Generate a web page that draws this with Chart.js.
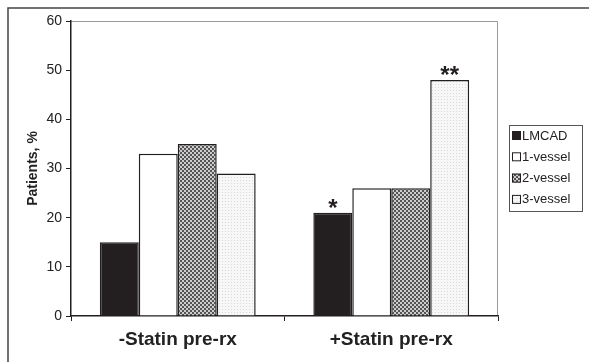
<!DOCTYPE html>
<html>
<head>
<meta charset="utf-8">
<script src="https://cdn.jsdelivr.net/npm/chart.js@4.4.1/dist/chart.umd.min.js"></script>
<style>
  html, body { margin: 0; padding: 0; background: #fff; }
  #wrap { width: 589px; height: 362px; position: relative; }
</style>
</head>
<body>
<div id="wrap"><canvas id="chart" width="589" height="362"></canvas></div>
<script>
// data
const categories = ["-Statin pre-rx", "+Statin pre-rx"];
const seriesNames = ["LMCAD", "1-vessel", "2-vessel", "3-vessel"];
const lmcad = [15, 21];
const oneVessel = [33, 26];
const twoVessel = [35, 26];
const threeVessel = [29, 48];
const yTicks = [0, 10, 20, 30, 40, 50, 60];
// significance marks per series, per category
const marks = [["", "*"], ["", ""], ["", ""], ["", "**"]];

const FONT = "'Liberation Sans', Arial, sans-serif";
const INK = "#231f20";

// hatch patterns like the print figure
function checkerPattern() {
  const c = document.createElement("canvas");
  c.width = 4; c.height = 4;
  const g = c.getContext("2d");
  g.fillStyle = "#cdcdcd";
  g.fillRect(0, 0, 4, 4);
  g.fillStyle = "#555555";
  g.fillRect(0, 0, 2, 2);
  g.fillRect(2, 2, 2, 2);
  return g.createPattern(c, "repeat");
}
function dotPattern() {
  const c = document.createElement("canvas");
  c.width = 3; c.height = 3;
  const g = c.getContext("2d");
  g.fillStyle = "#f7f7f7";
  g.fillRect(0, 0, 3, 3);
  g.fillStyle = "#d9d9d9";
  g.fillRect(0, 0, 1, 1);
  return g.createPattern(c, "repeat");
}

const fills = [INK, "#ffffff", checkerPattern(), dotPattern()];
const values = [lmcad, oneVessel, twoVessel, threeVessel];

// frame, gray top/right border of the plot, legend box, asterisks
const decor = {
  id: "decor",
  beforeDraw(chart) {
    const ctx = chart.ctx;
    ctx.save();
    ctx.fillStyle = "#fff";
    ctx.fillRect(0, 0, chart.width, chart.height);
    ctx.strokeStyle = "#444";
    ctx.lineWidth = 1.5;
    ctx.beginPath();
    ctx.moveTo(8, chart.height);
    ctx.lineTo(8, 8);
    ctx.lineTo(chart.width, 8);
    ctx.stroke();
    const a = chart.chartArea;
    ctx.strokeStyle = "#9a9a9a";
    ctx.lineWidth = 1;
    ctx.beginPath();
    ctx.moveTo(a.left, a.top + 0.5);
    ctx.lineTo(a.right - 0.5, a.top + 0.5);
    ctx.lineTo(a.right - 0.5, a.bottom);
    ctx.stroke();
    ctx.restore();
  },
  afterDatasetsDraw(chart) {
    const ctx = chart.ctx;
    ctx.save();
    ctx.fillStyle = INK;
    ctx.font = "bold 24px " + FONT;
    ctx.textAlign = "center";
    ctx.textBaseline = "alphabetic";
    marks.forEach((row, i) => {
      const meta = chart.getDatasetMeta(i);
      row.forEach((m, j) => {
        if (!m) return;
        const bar = meta.data[j];
        ctx.fillText(m, bar.x, bar.y + 3);
      });
    });

    // legend
    const bx = 509, by = 125, bw = 73, bh = 86;
    ctx.strokeStyle = "#555";
    ctx.lineWidth = 1;
    ctx.strokeRect(bx + 0.5, by + 0.5, bw, bh);
    ctx.font = "13px " + FONT;
    ctx.textAlign = "left";
    ctx.textBaseline = "middle";
    chart.data.datasets.forEach((ds, i) => {
      const cy = by + 11 + i * 21.3;
      ctx.fillStyle = ds.backgroundColor;
      ctx.fillRect(bx + 3, cy - 5, 9, 9);
      ctx.strokeStyle = INK;
      ctx.strokeRect(bx + 3.5, cy - 4.5, 8, 8);
      ctx.fillStyle = "#222";
      ctx.fillText(ds.label, bx + 13, cy);
    });
    ctx.restore();
  }
};

new Chart(document.getElementById("chart"), {
  type: "bar",
  data: {
    labels: categories,
    datasets: seriesNames.map((name, i) => ({
      label: name,
      data: values[i],
      backgroundColor: fills[i],
      borderColor: INK,
      borderWidth: 1.5,
      borderSkipped: "bottom",
      categoryPercentage: 0.73,
      barPercentage: 1.0
    }))
  },
  options: {
    responsive: false,
    animation: false,
    devicePixelRatio: 1,
    layout: { padding: { left: 0, right: 91, top: 21, bottom: 0 } },
    plugins: { legend: { display: false }, tooltip: { enabled: false } },
    scales: {
      x: {
        afterFit(s) { s.height = 46; },
        grid: { display: true, drawOnChartArea: false, drawTicks: true, tickLength: 5, color: INK, offset: true },
        border: { display: true, color: INK, width: 1.5 },
        ticks: { color: "#222", font: { family: FONT, size: 19, weight: "bold" }, padding: 7 }
      },
      y: {
        min: 0,
        max: 60,
        afterFit(s) { s.width = 71; },
        afterBuildTicks(s) { s.ticks = yTicks.map(v => ({ value: v })); },
        grid: { display: true, drawOnChartArea: false, drawTicks: true, tickLength: 5, color: INK },
        border: { display: true, color: INK, width: 1.5 },
        ticks: { color: "#222", font: { family: FONT, size: 14 }, padding: 4 },
        title: {
          display: true,
          text: "Patients, %",
          color: "#222",
          font: { family: FONT, size: 14, weight: "bold" },
          padding: { top: 25, bottom: 0 }
        }
      }
    }
  },
  plugins: [decor]
});
</script>
</body>
</html>
